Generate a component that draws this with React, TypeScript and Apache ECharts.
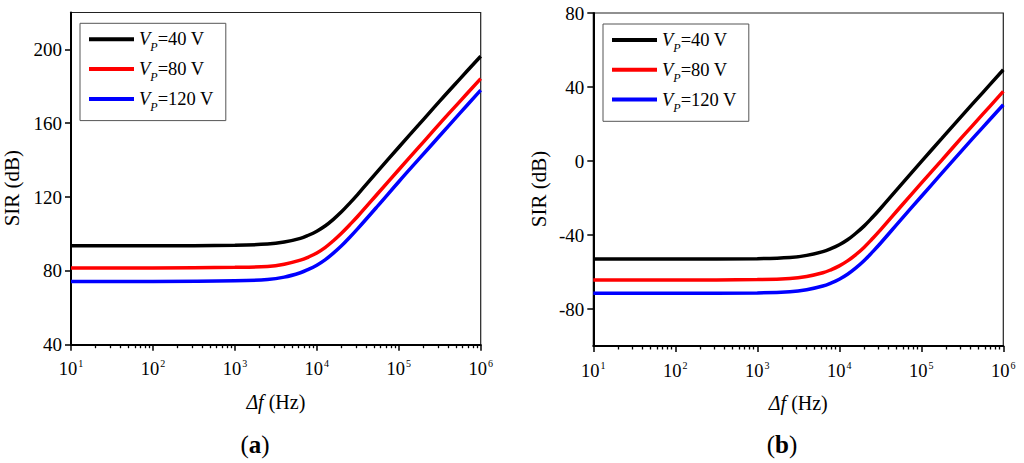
import React, { useEffect, useRef } from 'react';
import * as echarts from 'echarts';

// ---- data ----
const FREQ_HZ = [10, 100, 1000, 2500, 4000, 6300, 7900, 10000, 12600, 15800, 20000, 25100, 31600, 56200, 100000, 178000, 316000, 562000, 1000000];
const SERIES_NAMES = ['V_P=40 V', 'V_P=80 V', 'V_P=120 V'];
const COLORS = ['#000000', '#ff0000', '#0000ff'];

// panel (a)
const A_VP40 = [93.6, 93.6, 93.9, 94.5, 95.6, 97.6, 99.3, 101.5, 104.3, 107.8, 112.0, 116.6, 121.5, 134.3, 147.0, 159.5, 172.0, 184.2, 196.3];
const A_VP80 = [81.6, 81.6, 81.9, 82.4, 83.6, 85.8, 87.5, 89.7, 92.6, 96.2, 100.4, 104.9, 109.6, 122.2, 134.8, 147.3, 159.8, 172.0, 184.2];
const A_VP120 = [74.3, 74.3, 74.6, 75.3, 76.6, 79.0, 80.8, 83.1, 86.0, 89.5, 93.6, 98.1, 102.9, 115.5, 128.3, 140.8, 153.2, 165.6, 177.9];

// panel (b)
const B_VP40 = [-53.0, -53.0, -52.8, -52.2, -51.0, -49.0, -47.4, -45.3, -42.6, -39.2, -35.2, -30.7, -25.8, -13.0, -0.3, 12.2, 24.7, 37.0, 49.3];
const B_VP80 = [-64.3, -64.3, -64.1, -63.5, -62.4, -60.4, -58.8, -56.7, -54.0, -50.7, -46.7, -42.2, -37.4, -24.6, -12.0, 0.5, 13.0, 25.3, 37.6];
const B_VP120 = [-71.5, -71.5, -71.3, -70.7, -69.6, -67.6, -66.0, -63.9, -61.2, -57.9, -53.9, -49.4, -44.6, -31.8, -19.2, -6.6, 5.9, 18.2, 30.4];

// axes / ticks
const X_MIN = 10;
const X_MAX = 1000000;
const Y_A_RANGE = [40, 220];
const Y_A_TICKS = [40, 80, 120, 160, 200];
const Y_B_RANGE = [-100, 80];
const Y_B_TICKS = [-80, -40, 0, 40, 80];
const DECADE_EXPONENTS = [1, 2, 3, 4, 5];
const MINOR_MULTIPLIERS = [2, 3, 4, 5, 6, 7, 8, 9];

const FONT = 'Liberation Serif';

const MINOR_LOG_POSITIONS: number[] = [];
DECADE_EXPONENTS.forEach((e) => {
  MINOR_MULTIPLIERS.forEach((m) => {
    MINOR_LOG_POSITIONS.push(e + Math.log10(m));
  });
});

function pairs(values: number[]) {
  return FREQ_HZ.map((f, i) => [f, values[i]]);
}

function mainXAxis(gridIndex: number) {
  return {
    type: 'log',
    gridIndex,
    logBase: 10,
    min: X_MIN,
    max: X_MAX,
    name: '{i|Δf}{n| (Hz)}',
    nameLocation: 'middle',
    nameGap: 47,
    nameTextStyle: {
      rich: {
        i: { fontFamily: FONT, fontStyle: 'italic', fontSize: 20, color: '#000' },
        n: { fontFamily: FONT, fontSize: 20, color: '#000' },
      },
    },
    axisLine: { show: true, onZero: false, lineStyle: { color: '#000', width: 2 } },
    axisTick: { show: true, inside: false, length: 6, lineStyle: { color: '#000', width: 1.5 } },
    axisLabel: {
      margin: 14,
      formatter: (v: number) => `{b|10}{s|${Math.round(Math.log10(v))}}`,
      rich: {
        b: { fontFamily: FONT, fontSize: 18.5, color: '#000' },
        s: { fontFamily: FONT, fontSize: 10, color: '#000', padding: [0, 0, 11, 1] },
      },
    },
    splitLine: { show: false },
    minorTick: { show: false },
    minorSplitLine: { show: false },
  };
}

function minorXAxis(gridIndex: number) {
  return {
    type: 'value',
    gridIndex,
    min: 1,
    max: 6,
    position: 'bottom',
    axisLine: { show: false, onZero: false },
    axisLabel: { show: false },
    splitLine: { show: false },
    axisTick: {
      show: true,
      length: 3.5,
      customValues: MINOR_LOG_POSITIONS,
      lineStyle: { color: '#000', width: 1.3 },
    },
  };
}

function yAxis(gridIndex: number, range: number[], ticks: number[], nameGap: number) {
  return {
    type: 'value',
    gridIndex,
    min: range[0],
    max: range[1],
    name: 'SIR (dB)',
    nameLocation: 'middle',
    nameGap,
    nameTextStyle: { fontFamily: FONT, fontSize: 21, color: '#000', padding: [0, 19, 0, 0] },
    axisLine: { show: true, onZero: false, lineStyle: { color: '#000', width: 2 } },
    axisTick: { show: true, length: 6, customValues: ticks, lineStyle: { color: '#000', width: 1.5 } },
    axisLabel: {
      customValues: ticks,
      margin: 9,
      fontFamily: FONT,
      fontSize: 19,
      color: '#000',
    },
    splitLine: { show: false },
  };
}

function legend(left: number, top: number) {
  return {
    left,
    top,
    orient: 'vertical',
    data: SERIES_NAMES,
    icon: 'rect',
    itemWidth: 45,
    itemHeight: 4,
    itemGap: 1.8,
    padding: [2, 12, 7.7, 9],
    borderColor: '#555',
    borderWidth: 1,
    backgroundColor: '#fff',
    selectedMode: false,
    formatter: (name: string) => {
      const rest = name.split('=')[1];
      return `{v|V}{p|P}{t|=${rest}}`;
    },
    textStyle: {
      rich: {
        v: { fontFamily: FONT, fontStyle: 'italic', fontSize: 18.5, color: '#000', lineHeight: 21 },
        p: { fontFamily: FONT, fontStyle: 'italic', fontSize: 12, color: '#000', lineHeight: 12, padding: [16, 0, 0, 0] },
        t: { fontFamily: FONT, fontSize: 18.5, color: '#000', lineHeight: 21 },
      },
    },
  };
}

function lineSeries(name: string, color: string, values: number[], xAxisIndex: number, yAxisIndex: number) {
  return {
    type: 'line',
    name,
    xAxisIndex,
    yAxisIndex,
    data: pairs(values),
    smooth: 0.4,
    showSymbol: false,
    symbol: 'none',
    color,
    lineStyle: { color, width: 3.5 },
    z: 3,
  };
}

function panelLabel(letter: string, x: number) {
  return {
    type: 'text',
    x,
    y: 444,
    style: {
      text: `{p|(}{a|${letter}}{p|)}`,
      align: 'center',
      verticalAlign: 'middle',
      rich: {
        p: { fontFamily: FONT, fontSize: 25, fill: '#000' },
        a: { fontFamily: FONT, fontSize: 25, fontWeight: 'bold', fill: '#000' },
      },
    },
  };
}

export default function App() {
  const ref = useRef<HTMLDivElement>(null);

  useEffect(() => {
    document.body.style.margin = '0';
    if (!ref.current) return;
    const chart = echarts.init(ref.current, undefined, { renderer: 'svg' });
    const A = [A_VP40, A_VP80, A_VP120];
    const B = [B_VP40, B_VP80, B_VP120];
    const option: any = {
      animation: false,
      backgroundColor: '#fff',
      textStyle: { fontFamily: FONT },
      grid: [
        { left: 71, top: 12.5, width: 409.7, height: 332.2, show: true, borderColor: '#222', borderWidth: 1.2, backgroundColor: 'transparent', containLabel: false, outerBoundsMode: 'none' },
        { left: 593.3, top: 13, width: 410, height: 333, show: true, borderColor: '#222', borderWidth: 1.2, backgroundColor: 'transparent', containLabel: false, outerBoundsMode: 'none' },
      ],
      xAxis: [mainXAxis(0), minorXAxis(0), mainXAxis(1), minorXAxis(1)],
      yAxis: [yAxis(0, Y_A_RANGE, Y_A_TICKS, 49), yAxis(1, Y_B_RANGE, Y_B_TICKS, 44)],
      legend: [legend(80, 23.3), legend(603, 24)],
      series: [
        ...SERIES_NAMES.map((n, i) => lineSeries(n, COLORS[i], A[i], 0, 0)),
        ...SERIES_NAMES.map((n, i) => lineSeries(n, COLORS[i], B[i], 2, 1)),
      ],
      graphic: [panelLabel('a', 255), panelLabel('b', 782)],
    };
    chart.setOption(option);
    return () => chart.dispose();
  }, []);

  return <div ref={ref} style={{ width: 1024, height: 463 }} />;
}
